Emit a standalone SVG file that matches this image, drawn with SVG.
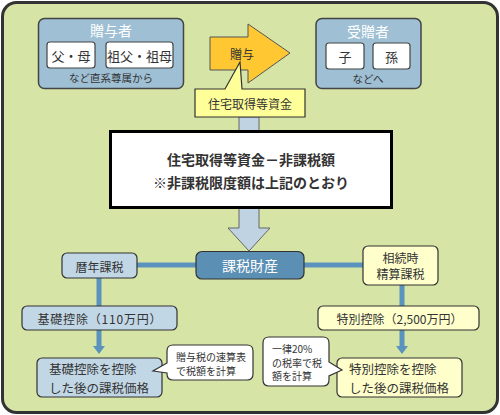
<svg xmlns="http://www.w3.org/2000/svg" width="500" height="415" viewBox="0 0 500 415">
<defs>
<style>
text{font-family:"Noto Sans CJK JP","Noto Sans",sans-serif;dominant-baseline:central;fill:#333;}
.c{text-anchor:middle;}
.w{fill:#fff;}
.grp{fill:#9ebfd4;stroke:#444;stroke-width:1.5;}
.inner{fill:#fff;stroke:#444;stroke-width:1.2;}
.lb{fill:#c2d7e6;stroke:#333;stroke-width:1.2;}
.ly{fill:#ffffcc;stroke:#333;stroke-width:1.2;}
.bub{fill:#fff;stroke:#333;stroke-width:1.2;}
.conn{stroke:#5a93bd;stroke-width:5;fill:none;}
</style>
<marker id="ah" viewBox="0 0 8 12" refX="0" refY="6" markerWidth="8" markerHeight="12" markerUnits="userSpaceOnUse" orient="auto">
<path d="M0,0 L8,6 L0,12 z" fill="#5a93bd"/>
</marker>
</defs>
<rect x="2.5" y="2.5" width="495" height="410" rx="14" fill="#d6e4a6" stroke="#333" stroke-width="3"/>

<g id="connectors">
<polygon points="239,117 259,117 259,228 270,228 249,251 228,228 239,228" fill="#bfd3e3" stroke="#666" stroke-width="1"/>
<line class="conn" x1="137" y1="265" x2="196" y2="265"/>
<line class="conn" x1="304" y1="265" x2="363" y2="265"/>
<line class="conn" x1="99" y1="278" x2="99" y2="306" stroke-width="6"/>
<line class="conn" x1="99" y1="330" x2="99" y2="346" stroke-width="6" marker-end="url(#ah)"/>
<line class="conn" x1="402" y1="285" x2="402" y2="306" stroke-width="6"/>
<line class="conn" x1="402" y1="330" x2="402" y2="346" stroke-width="6" marker-end="url(#ah)"/>
</g>

<g id="giver">
<rect class="grp" x="38.5" y="18.5" width="145" height="70" rx="6"/>
<text class="c w" x="111" y="30" font-size="14">贈与者</text>
<rect class="inner" x="47" y="42" width="48" height="26" rx="3"/>
<text class="c" x="71" y="55" font-size="13">父・母</text>
<rect class="inner" x="106" y="42" width="67" height="26" rx="3"/>
<text class="c" x="139.5" y="55" font-size="13">祖父・祖母</text>
<text class="c" x="111" y="77.5" font-size="10.5" fill="#444">など直系尊属から</text>
</g>

<g id="recipient">
<rect class="grp" x="316" y="18.5" width="105" height="70" rx="6"/>
<text class="c w" x="368" y="31" font-size="14">受贈者</text>
<rect class="inner" x="326" y="43" width="38" height="26" rx="3"/>
<text class="c" x="345" y="56" font-size="13">子</text>
<rect class="inner" x="373" y="43" width="37" height="26" rx="3"/>
<text class="c" x="391.5" y="56" font-size="13">孫</text>
<text class="c" x="368" y="78" font-size="10.5" fill="#444">などへ</text>
</g>

<g id="gift-arrow">
<polygon points="210,37 248,37 248,24 290,53 248,83 248,70 210,70" fill="#ffc832" stroke="#555" stroke-width="1"/>
<text class="c" x="242" y="53" font-size="12">贈与</text>
</g>

<g id="housing-funds">
<path d="M195,89 H225 L240,62 L242,89 H305 V117 H195 Z" fill="#ffff99" stroke="#333" stroke-width="1.2"/>
<text class="c" x="250" y="103" font-size="12">住宅取得等資金</text>
</g>

<g id="main">
<rect x="110.5" y="131.5" width="281" height="76" fill="#fff" stroke="#000" stroke-width="3"/>
<text class="c" x="251" y="158.5" font-size="14" font-weight="bold" fill="#000">住宅取得等資金－非課税額<tspan x="251" dy="23">※非課税限度額は上記のとおり</tspan></text>
</g>

<g id="taxable">
<rect x="196" y="251.5" width="108" height="27.5" rx="6" fill="#5b8fb4" stroke="#333" stroke-width="1.2"/>
<text class="c w" x="250" y="265" font-size="14">課税財産</text>
</g>

<g id="calendar">
<rect class="lb" x="62" y="253" width="75" height="25" rx="5"/>
<text class="c" x="99.5" y="266" font-size="12">暦年課税</text>
</g>

<g id="basic-deduction">
<rect class="lb" x="22" y="306" width="155" height="24" rx="5"/>
<text class="c" x="99.5" y="318" font-size="12" textLength="124" lengthAdjust="spacing">基礎控除（110万円）</text>
</g>

<g id="basic-result">
<rect class="lb" x="37" y="358" width="125" height="39" rx="5"/>
<text x="49" y="368.5" font-size="12.5">基礎控除を控除<tspan x="49" dy="18">した後の課税価格</tspan></text>
</g>

<g id="note-left">
<path class="bub" d="M173,345 H247 Q253,345 253,351 V374 Q253,380 247,380 H173 Q167,380 167,374 V373 L153,371 L167,363 V351 Q167,345 173,345 Z"/>
<text x="176" y="356.5" font-size="10">贈与税の速算表<tspan x="176" dy="13.5">で税額を計算</tspan></text>
</g>

<g id="settlement">
<rect class="ly" x="363" y="246" width="75" height="39" rx="5"/>
<text class="c" x="400.5" y="257" font-size="12">相続時<tspan x="400.5" dy="16">精算課税</tspan></text>
</g>

<g id="special-deduction">
<rect class="ly" x="318" y="306" width="161" height="24" rx="5"/>
<text class="c" x="399.5" y="318" font-size="12">特別控除（2,500万円）</text>
</g>

<g id="special-result">
<rect class="ly" x="337" y="358" width="125" height="39" rx="5"/>
<text x="349" y="368.5" font-size="12.5">特別控除を控除<tspan x="349" dy="18">した後の課税価格</tspan></text>
</g>

<g id="note-right">
<path class="bub" d="M269,337 H323 Q329,337 329,343 V362 L342,370 L329,376 V380 Q329,386 323,386 H269 Q263,386 263,380 V343 Q263,337 269,337 Z"/>
<text x="272" y="348" font-size="10">一律20%<tspan x="272" dy="13.5">の税率で税</tspan><tspan x="272" dy="13.5">額を計算</tspan></text>
</g>
</svg>
